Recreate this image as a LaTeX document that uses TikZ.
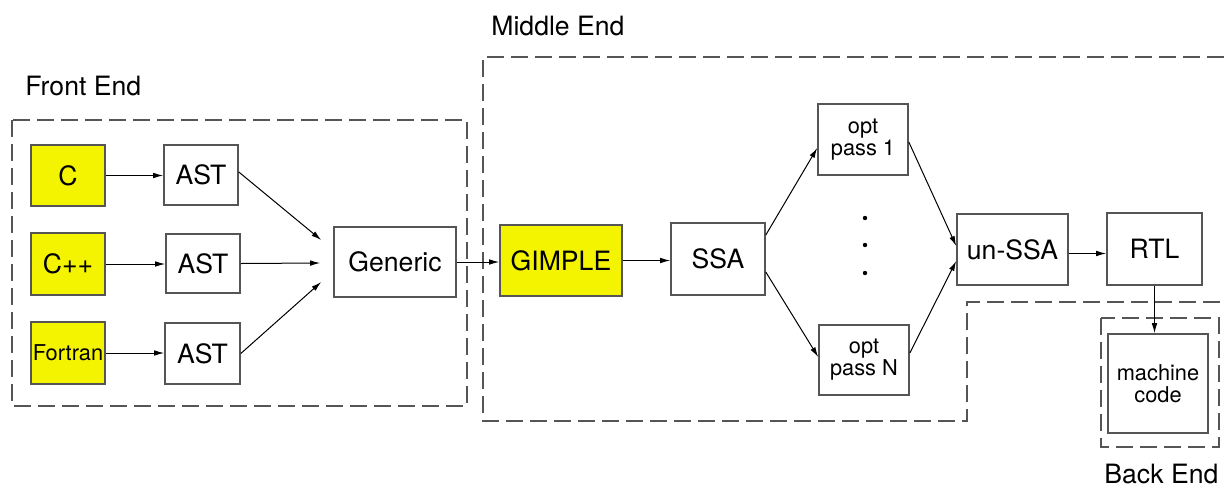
\documentclass[tikz,border=0pt]{standalone}
\usepackage{fontspec}
\setmainfont{TeX Gyre Heros}
\usetikzlibrary{arrows.meta,calc}
\definecolor{boxline}{HTML}{555555}
\definecolor{hilite}{RGB}{244,244,0}
\begin{document}
\begin{tikzpicture}[x=0.5pt,y=-0.5pt,
  blk/.style={draw=boxline,line width=0.8pt,inner sep=0pt,align=center,
              font=\fontsize{13.3}{16}\selectfont},
  src/.style={blk,fill=hilite},
  sml/.style={font=\fontsize{10.9}{11}\selectfont},
  flow/.style={-{Latex[length=5pt,width=2.8pt]},line width=0.5pt,black},
  region/.style={draw=boxline,line width=0.8pt,dash pattern=on 8.5pt off 3.5pt},
  lbl/.style={anchor=base west,inner sep=0pt,font=\fontsize{13.3}{16}\selectfont}]
\useasboundingbox (0,0) rectangle (1224,488);

% compiler stage regions
\draw[region] (12,120) rectangle (467,406);
\draw[region] (1224,57) -- (483,57) -- (483,421) -- (967,421) -- (967,302) -- (1224,302);
\draw[region] (1101,318) rectangle (1219,447);

\node[lbl] (lfront) at (25,95) {Front End};
\node[lbl] (lmid) at (491,35) {Middle End};
\node[lbl] (lback) at (1104,483) {Back End};

% front end
\node[src,minimum width=37pt,minimum height=30.5pt] (c) at (68,175.5) {C};
\node[src,minimum width=37pt,minimum height=31pt] (cpp) at (68,264) {C++};
\node[src,sml,minimum width=37pt,minimum height=31pt] (fortran) at (68,353) {Fortran};
\node[blk,minimum width=37pt,minimum height=30pt] (ast1) at (201,175) {AST};
\node[blk,minimum width=37pt,minimum height=29.5pt] (ast2) at (203,263.5) {AST};
\node[blk,minimum width=37.5pt,minimum height=30.5pt] (ast3) at (202.5,353.5) {AST};
\node[blk,minimum width=61pt,minimum height=35pt] (gen) at (395,262) {Generic};

% middle end
\node[src,minimum width=61pt,minimum height=35.5pt] (gimple) at (561,260.5) {GIMPLE};
\node[blk,minimum width=47pt,minimum height=36pt] (ssa) at (718,259) {SSA};
\node[blk,sml,minimum width=45pt,minimum height=35.5pt] (opt1) at (863,139.5) {opt\\pass 1};
\node[blk,sml,minimum width=45pt,minimum height=35pt] (optn) at (864,360) {opt\\pass N};
\node[blk,minimum width=55.5pt,minimum height=35.5pt] (unssa) at (1012.5,249.5) {un-SSA};
\node[blk,minimum width=47.5pt,minimum height=36pt] (rtl) at (1154.5,249) {RTL};

% back end
\node[blk,sml,minimum width=50pt,minimum height=49.5pt] (mc) at (1158,383.5) {machine\\code};

% elided passes
\fill (865,218) circle[radius=1.1pt];
\fill (865,245) circle[radius=1.1pt];
\fill (865,273) circle[radius=1.1pt];

% connectors
\draw[flow] (c.east) -- (c.east -| ast1.west);
\draw[flow] (cpp.east) -- (cpp.east -| ast2.west);
\draw[flow] (fortran.east) -- (fortran.east -| ast3.west);
\draw[flow] ($(ast1.east)+(0,-3)$) -- ($(gen.west)+(-12,-22)$);
\draw[flow] (ast2.east) -- ($(gen.west)+(-13,1)$);
\draw[flow] (ast3.east) -- ($(gen.west)+(-12,20)$);
\draw[flow] (gen.east) -- (gen.east -| gimple.west);
\draw[flow] (gimple.east) -- (gimple.east -| ssa.west);
\draw[flow] ($(ssa.east)+(0,-24)$) -- ($(opt1.west)+(0,8.5)$);
\draw[flow] ($(ssa.east)+(0,13)$) -- ($(optn.west)+(0,-3)$);
\draw[flow] ($(opt1.east)+(0,2.5)$) -- ($(unssa.west)+(0,-3.5)$);
\draw[flow] ($(optn.east)+(0,-7)$) -- ($(unssa.west)+(0,11.5)$);
\draw[flow] ([yshift=-2pt]unssa.east) -- ([yshift=-2pt]unssa.east -| rtl.west);
\draw[flow] (rtl.south) -- (rtl.south |- mc.north);
\end{tikzpicture}
\end{document}
